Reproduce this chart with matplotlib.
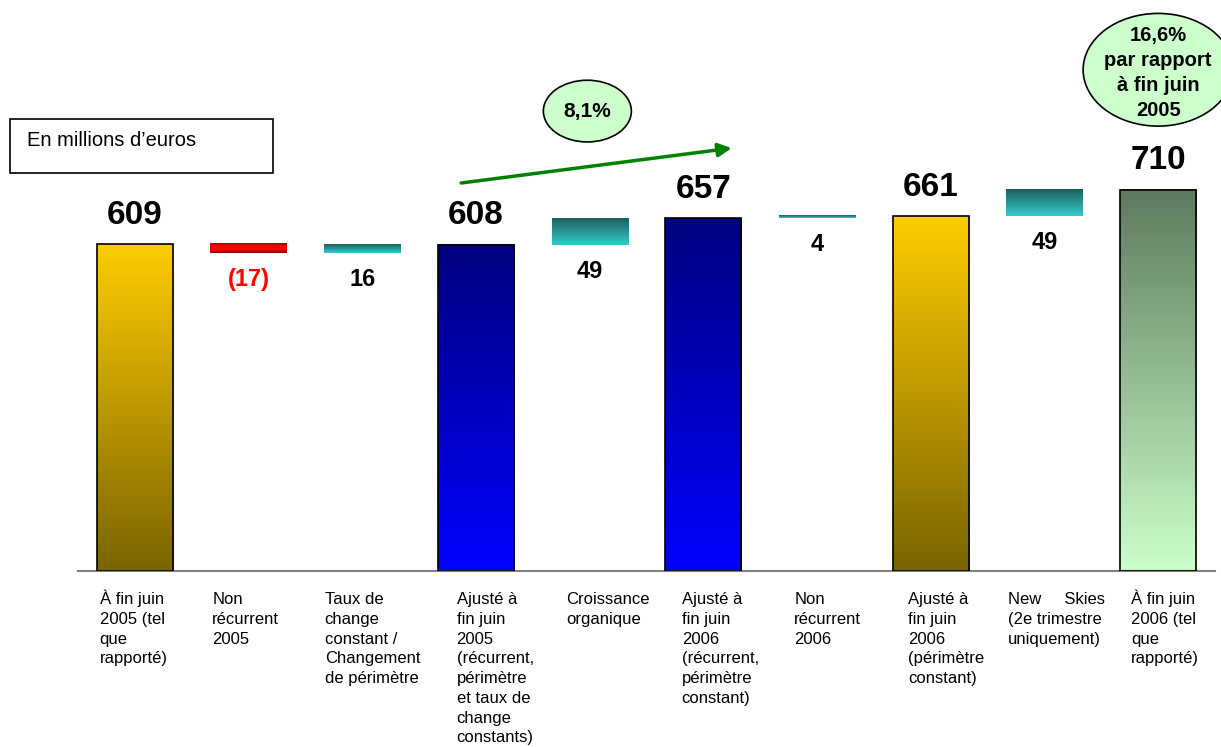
import numpy as np
import matplotlib as mpl
mpl.use('Agg')
import matplotlib.pyplot as plt
from matplotlib.colors import LinearSegmentedColormap
from matplotlib.patches import Ellipse, Rectangle

plt.rcParams['font.family'] = ['Liberation Sans', 'DejaVu Sans']

categories = ["À fin juin\n2005 (tel\nque\nrapporté)",
              "Non\nrécurrent\n2005",
              "Taux de\nchange\nconstant /\nChangement\nde périmètre",
              "Ajusté à\nfin juin\n2005\n(récurrent,\npérimètre\net taux de\nchange\nconstants)",
              "Croissance\norganique",
              "Ajusté à\nfin juin\n2006\n(récurrent,\npérimètre\nconstant)",
              "Non\nrécurrent\n2006",
              "Ajusté à\nfin juin\n2006\n(périmètre\nconstant)",
              "New     Skies\n(2e trimestre\nuniquement)",
              "À fin juin\n2006 (tel\nque\nrapporté)"]
values = [609, -17, 16, 608, 49, 657, 4, 661, 49, 710]
is_total = [True, False, False, True, False, True, False, True, False, True]
growth_1 = "8,1%"
growth_2 = "16,6%\npar rapport\nà fin juin\n2005"

# gradients (top -> bottom)
grad = {
    'gold': ['#FFCC00', '#7A6400'],
    'red': ['#A00000', '#FF0000', '#FF0000', '#8B0000'],
    'teal': ['#1E5E5E', '#33CCCC'],
    'blue': ['#000080', '#0000FF'],
    'green': ['#5F7A5F', '#CCFFCC'],
}
bar_style = ['gold', 'red', 'teal', 'blue', 'teal', 'blue', 'teal', 'gold', 'teal', 'green']
label_dx = [-0.31, -0.32, -0.33, -0.17, -0.21, -0.19, -0.20, -0.20, -0.32, -0.24]

fig = plt.figure(figsize=(12.21, 7.47), dpi=100)
ax = fig.add_axes([78 / 1221, 176 / 747, (1215 - 78) / 1221, 571 / 747])

w = 0.67
x = np.arange(len(values))
bottoms = []
tops = []
run = 0
for v, t in zip(values, is_total):
    if t:
        bottoms.append(0)
        tops.append(v)
        run = v
    else:
        b, e = run, run + v
        bottoms.append(min(b, e))
        tops.append(max(b, e))
        run = e

for i in range(len(values)):
    cmap = LinearSegmentedColormap.from_list('g%d' % i, grad[bar_style[i]][::-1])
    g = np.linspace(0, 1, 256).reshape(-1, 1)
    ax.imshow(g, cmap=cmap, origin='lower', aspect='auto', interpolation='bilinear',
              extent=(x[i] - w / 2, x[i] + w / 2, bottoms[i], tops[i]), zorder=2)
    if is_total[i]:
        ax.bar(x[i], tops[i] - bottoms[i], w, bottom=bottoms[i], fill=False,
               edgecolor='black', linewidth=1.2, zorder=3)
        ax.annotate(str(values[i]), (x[i], tops[i]), xytext=(0, 21), textcoords='offset points',
                    ha='center', va='center', fontsize=24, fontweight='bold')
    else:
        txt = "(%d)" % abs(values[i]) if values[i] < 0 else str(values[i])
        col = 'red' if values[i] < 0 else 'black'
        ax.annotate(txt, (x[i], bottoms[i]), xytext=(0, -19), textcoords='offset points',
                    ha='center', va='center', fontsize=17, fontweight='bold', color=col)
    # category label, one line at a time so every column shares the same baselines
    for k, line in enumerate(categories[i].split('\n')):
        ax.annotate(line, (x[i] + label_dx[i], 0), xytext=(0, -24 - 14.2 * k),
                    textcoords='offset points', ha='left', va='baseline', fontsize=12,
                    annotation_clip=False)

ax.set_xlim(-0.5, 9.5)
ax.set_ylim(0, 1064)
for s in ['top', 'right', 'left']:
    ax.spines[s].set_visible(False)
ax.spines['bottom'].set_color('#808080')
ax.spines['bottom'].set_linewidth(1.5)
ax.set_xticks([])
ax.set_yticks([])

# growth arrow and bubbles
ax.annotate('', xy=(5.25, 788), xytext=(2.87, 723),
            arrowprops=dict(arrowstyle='-|>', color='#008000', lw=2.5, mutation_scale=20,
                            shrinkA=0, shrinkB=0))
ax.add_patch(Ellipse((3.98, 857), 0.774, 115, facecolor='#CCFFCC', edgecolor='black',
                     linewidth=1.2, clip_on=False, zorder=4))
ax.text(3.98, 857, growth_1, ha='center', va='center', fontsize=15, fontweight='bold', zorder=5)
ax.add_patch(Ellipse((9.0, 934), 1.32, 210, facecolor='#CCFFCC', edgecolor='black',
                     linewidth=1.2, clip_on=False, zorder=4))
ax.text(9.0, 928, growth_2, ha='center', va='center', fontsize=14.5, fontweight='bold',
        linespacing=1.38, zorder=5)

# unit box
fig.patches.append(Rectangle((10 / 1221, 1 - 173 / 747), 263 / 1221, 54 / 747,
                             transform=fig.transFigure, fill=False, edgecolor='black', linewidth=1.2))
fig.text(27 / 1221, 1 - 141 / 747, "En millions d\u2019euros", ha='left', va='center', fontsize=14.5)

plt.savefig("out.png", dpi=100)
